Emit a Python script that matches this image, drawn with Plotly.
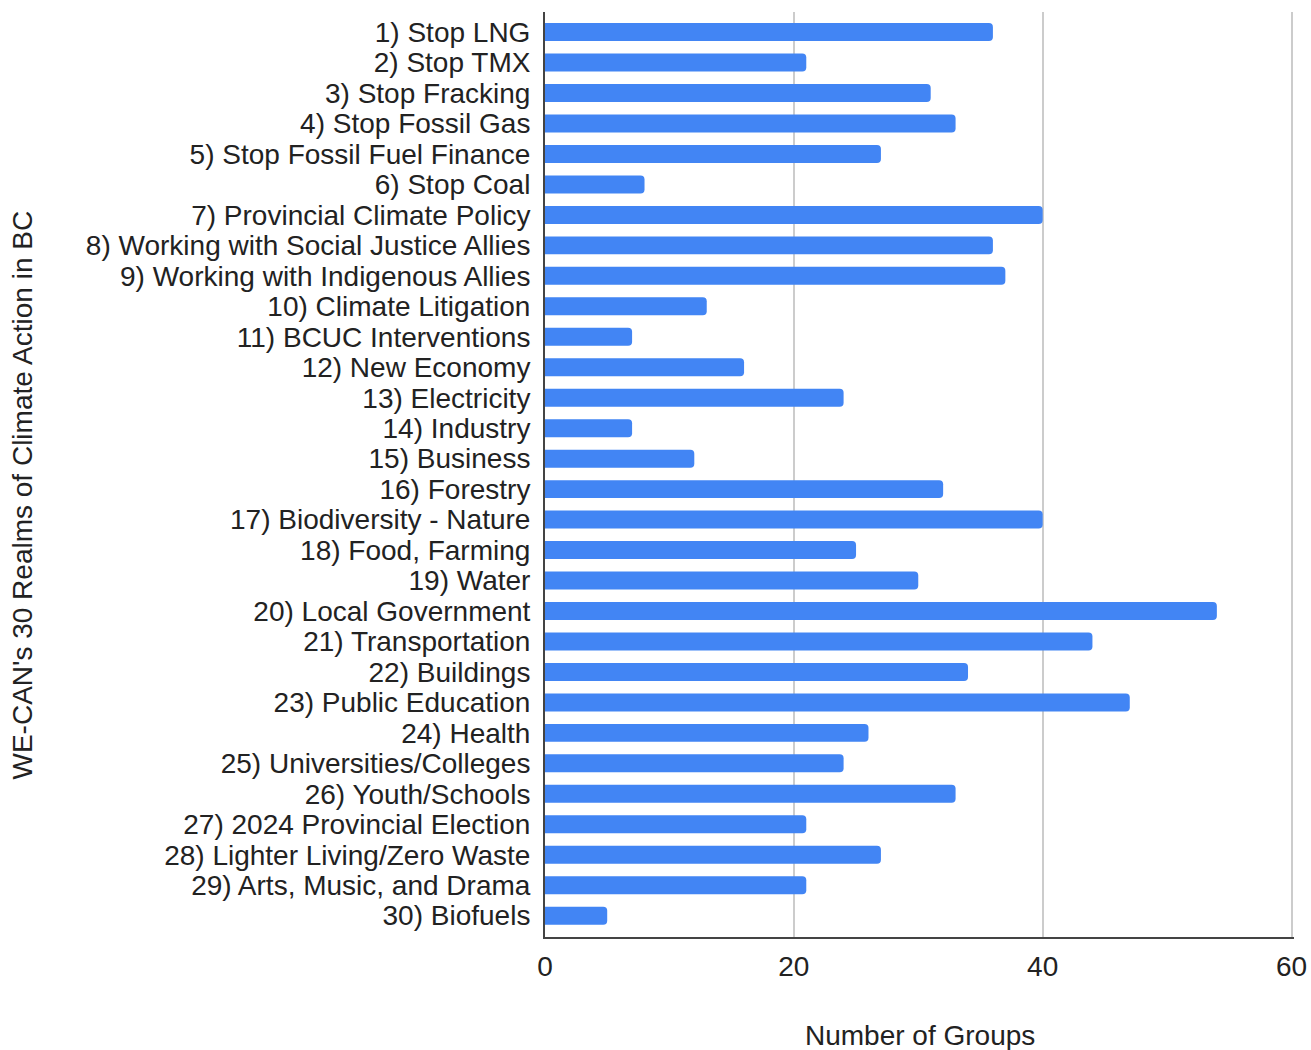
import plotly.graph_objects as go

categories = [
    "1) Stop LNG", "2) Stop TMX", "3) Stop Fracking", "4) Stop Fossil Gas",
    "5) Stop Fossil Fuel Finance", "6) Stop Coal", "7) Provincial Climate Policy",
    "8) Working with Social Justice Allies", "9) Working with Indigenous Allies",
    "10) Climate Litigation", "11) BCUC Interventions", "12) New Economy",
    "13) Electricity", "14) Industry", "15) Business", "16) Forestry",
    "17) Biodiversity - Nature", "18) Food, Farming", "19) Water",
    "20) Local Government", "21) Transportation", "22) Buildings",
    "23) Public Education", "24) Health", "25) Universities/Colleges",
    "26) Youth/Schools", "27) 2024 Provincial Election",
    "28) Lighter Living/Zero Waste", "29) Arts, Music, and Drama", "30) Biofuels",
]
values = [36, 21, 31, 33, 27, 8, 40, 36, 37, 13, 7, 16, 24, 7, 12, 32, 40, 25, 30,
          54, 44, 34, 47, 26, 24, 33, 21, 27, 21, 5]
x_ticks = [0, 20, 40, 60]
x_title = "Number of Groups"
y_title = "WE-CAN's 30 Realms of Climate Action in BC"

FONT = "Liberation Sans, Arial, sans-serif"
TXT = "#222222"

fig = go.Figure(go.Bar(
    x=values, y=categories, orientation="h",
    marker=dict(color="#4285f4", cornerradius=4, line=dict(width=0)),
))

fig.update_layout(
    width=1311, height=1050,
    margin=dict(l=545, r=17, t=12, b=113, autoexpand=False),
    paper_bgcolor="white", plot_bgcolor="white",
    bargap=0.41,
    showlegend=False,
    font=dict(family=FONT, size=28, color=TXT),
    xaxis=dict(
        range=[0, 60.2], tickmode="array", tickvals=x_ticks,
        ticktext=[str(v) for v in x_ticks],
        showgrid=True, gridcolor="#cccccc", gridwidth=1.5,
        zeroline=False, showline=True, linecolor="#444444", linewidth=2,
        ticks="", ticklabelstandoff=3, automargin=False,
        tickfont=dict(family=FONT, size=28, color=TXT),
    ),
    yaxis=dict(
        type="category", categoryorder="array", categoryarray=categories,
        tickmode="array", tickvals=categories, ticktext=categories,
        range=[len(categories) - 0.5 + 0.2, -0.5 - 0.16],
        showgrid=False, zeroline=False, showline=True, automargin=False,
        linecolor="#444444", linewidth=2, ticks="", ticklabelstandoff=7,
        tickfont=dict(family=FONT, size=28, color=TXT),
    ),
    annotations=[
        dict(text=x_title, xref="paper", yref="paper", x=0.5, y=0,
             xanchor="center", yanchor="middle", yshift=-98, showarrow=False,
             font=dict(family=FONT, size=28, color=TXT)),
        dict(text=y_title, xref="paper", yref="paper", x=0, y=0.5,
             xanchor="center", yanchor="middle", xshift=-523, yshift=-21,
             textangle=-90, showarrow=False,
             font=dict(family=FONT, size=28, color=TXT)),
    ],
)

fig.write_html("out.html")
